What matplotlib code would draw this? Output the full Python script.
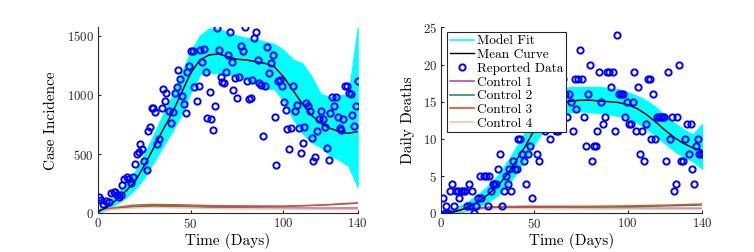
import matplotlib
matplotlib.use("Agg")
import matplotlib.pyplot as plt
from matplotlib.lines import Line2D

# ---- data -----------------------------------------------------------------

# Case incidence: reported data
case_days = [0.5, 2, 3, 4.5, 6, 7, 8.5, 9.5, 10.6, 11.7, 12.4, 13, 14.4, 16, 17, 18,
             19, 20, 21, 22, 23, 24, 25, 26.4, 27, 28, 29, 30, 31, 32, 33, 34.5,
             35, 36, 37, 38.6, 39.5, 40.4, 41.5, 42.5, 43.4, 44.5, 45.4, 46.3,
             47.4, 48.3, 49.2, 50, 51.3, 52, 53.3, 54.4, 55.3, 56.2, 57.3, 58.3,
             59, 60.3, 61.2, 62.1, 63.2, 64.4, 65.2, 66.2, 67.1, 68.2, 69.3, 70.4,
             71.3, 72.2, 73, 74.1, 75.2, 76.3, 77.4, 78.3, 79.3, 80.2, 81.3, 82.4,
             83.3, 84.4, 85.4, 86.2, 87, 88.1, 89, 90.1, 91, 92.1, 93.2, 94.2,
             95.3, 96.2, 97.1, 98.2, 99.1, 100.2, 101.2, 102.1, 103.2, 104.3,
             105.4, 106.4, 107.2, 108.2, 109.3, 110.4, 111.3, 112.2, 113.1, 114.2,
             115.2, 116.1, 117.2, 118.3, 119.2, 120.3, 121.2, 122.2, 123.3, 124.4,
             125.3, 126.2, 127.3, 128.3, 129.2, 130.3, 131.2, 132.1, 133.2, 134.3,
             135.2, 136.2, 137.1, 138.2, 139.1, 140]
case_vals = [141, 113, 76, 107, 98, 174, 180, 177, 155, 141, 152, 236, 293, 310, 293, 256,
             307, 414, 501, 520, 585, 546, 445, 366, 698, 726, 892, 892, 855, 583, 625, 889,
             1047, 951, 1016, 867, 765, 855, 1016, 1064, 1210, 1131, 990, 926,
             850, 1193, 1247, 1373, 1373, 1067, 945, 1078, 1376, 1280, 1390, 1196,
             802, 1027, 794, 701, 906, 1562, 1379, 1154, 1109, 1100, 1193, 1337,
             1531, 1280, 1041, 1145, 974, 1151, 1410, 1368, 1573, 1117, 962, 971,
             1126, 1483, 1534, 1292, 1100, 1086, 650, 1078, 1401, 1185, 1266, 1340,
             810, 411, 1114, 1123, 1075, 937, 872, 712, 540, 718,
             1072, 864, 912, 718, 512, 597, 729, 929, 906, 864,
             636, 445, 478, 695, 796, 864, 794, 729, 549, 450,
             844, 985, 909, 985, 816, 718, 701, 794, 1078, 1078,
             1013, 1005, 827, 737, 903, 1117]

# Fitted curves sampled every 5 days
fit_days = [0, 5, 10, 15, 20, 25, 30, 35, 40, 45, 50, 55, 60, 65, 70, 75, 80, 85, 90,
            95, 100, 105, 110, 115, 120, 125, 130, 135, 140]
case_mean = [14, 50, 113, 185, 267, 400, 549, 700, 844, 1013, 1182, 1295, 1337, 1345,
             1323, 1300, 1295, 1280, 1266, 1238, 1154, 1041, 929, 830, 760, 718, 690, 675, 690]
case_upper = [30, 80, 160, 250, 350, 500, 660, 830, 990, 1180, 1370, 1500, 1560, 1560,
              1530, 1500, 1480, 1470, 1450, 1430, 1380, 1300, 1270, 1160, 1010, 980, 1000, 1000, 1570]
case_lower = [5, 30, 80, 130, 200, 300, 430, 560, 690, 830, 1020, 1170, 1190, 1180,
              1170, 1150, 1130, 1090, 1050, 1050, 950, 800, 680, 600, 560, 490, 450, 400, 220]

# Control scenarios (cases), sampled at these days
ctrl_days = [0, 10, 20, 30, 45, 60, 80, 100, 120, 140]
case_ctrl1 = [20, 40, 55, 60, 56, 50, 47, 45, 44, 45]
case_ctrl2 = [20, 45, 60, 65, 63, 60, 58, 58, 68, 85]
case_ctrl3 = [20, 50, 70, 75, 72, 65, 62, 60, 70, 88]
case_ctrl4 = [20, 35, 45, 50, 45, 40, 37, 35, 32, 30]

# Daily deaths: reported data
death_days = [0.7, 1.8, 2.5, 3.6, 4.5, 5.7, 6.6, 7.7, 8.8, 9.7, 10.7, 11.8, 12.7, 13.6,
              14.7, 15.6, 16.6, 17.7, 18.8, 19.7, 20.6, 21.5, 22.7, 23.8, 24.9, 25.8,
              26.7, 27.6, 28.5, 29.5, 30.6, 31.7, 32.8, 33.7, 34.6, 35.6, 36.5, 37.6,
              38.5, 39.6, 40.5, 41.4, 42.4, 43.5, 44.6, 45.6, 46.7, 47.6, 48.7, 49.6,
              50.7, 51.6, 52.6, 53.5, 54.6, 55.5, 56.6, 57.5, 58.5, 59.6, 60.5, 61.6,
              62.5, 63.6, 64.4, 65.5, 66.4, 67.5, 68.6, 69.6, 70.7, 71.6, 72.5, 73.6,
              74.6, 75.7, 76.8, 77.7, 78.8, 79.7, 80.7, 81.8, 82.9, 83.8, 84.9, 85.8,
              86.8, 87.9, 88.8, 89.9, 90.9, 92, 93.1, 94.5, 95.6, 96.7, 97.7, 98.8,
              99.7, 100.6, 101.7, 102.7, 103.7, 104.7, 105.8, 106.7, 107.8, 108.8,
              109.7, 110.8, 111.9, 112.8, 113.9, 114.8, 115.8, 116.9, 117.8, 118.9,
              119.8, 120.8, 121.7, 122.8, 123.7, 124.8, 125.9, 126.7, 127.8, 128.7,
              129.8, 130.9, 131.8, 132.8, 133.9, 134.8, 135.9, 136.8, 137.7, 138.6,
              139.6, 140.5]
death_vals = [2, 0, 1, 0, 3, 4, 1, 3, 3, 2, 3, 3, 3, 1,
              4, 1, 3, 0, 1, 2, 5, 2, 5, 5, 1, 5,
              3, 4, 4, 4, 6, 8, 1, 3, 5, 4, 6, 3,
              7, 6, 6, 10, 10, 8, 7, 4, 8, 9, 2, 13,
              15, 8, 7, 13, 13, 11, 16, 14, 10, 17, 14, 11,
              11, 17, 15, 18, 16, 13, 16, 15, 11, 18, 14, 18,
              22, 18, 13, 9, 16, 20, 7, 9, 9, 11, 19, 15,
              12, 13, 19, 19, 17, 19, 11, 24, 16, 16, 16, 13,
              15, 12, 12, 15, 19, 11, 17, 8, 11, 7,
              12, 18, 18, 10, 16, 10, 13, 13, 13, 13,
              13, 7, 19, 10, 13, 3, 4, 13, 20, 7,
              7, 10, 12, 8, 12, 6, 4, 9, 10, 8,
              8, 8]

death_mean = [0, 0.1, 0.4, 0.9, 1.6, 2.5, 3.6, 5.1, 7.0, 9.0, 11.2, 13.0, 14.3, 14.9,
              15.1, 15.2, 15.2, 15.1, 15.0, 14.9, 14.6, 14.1, 13.3, 12.3, 11.2, 10.2,
              9.4, 8.8, 8.5]
death_upper = [0.3, 0.5, 1.0, 1.7, 2.6, 3.7, 5.0, 6.8, 8.8, 11.0, 13.2, 15.0, 16.2, 16.8,
               17.0, 17.0, 17.0, 17.0, 16.8, 16.7, 16.3, 15.8, 15.2, 14.3, 13.2, 12.2,
               11.3, 10.6, 12.0]
death_lower = [0, 0, 0.1, 0.4, 0.9, 1.5, 2.4, 3.6, 5.3, 7.2, 9.3, 11.2, 12.6, 13.3,
               13.6, 13.7, 13.6, 13.5, 13.3, 13.1, 12.8, 12.2, 11.4, 10.4, 9.4, 8.4,
               7.6, 7.0, 6.0]

death_ctrl1 = [0, 0.35, 0.6, 0.75, 0.8, 0.75, 0.72, 0.7, 0.68, 0.68]
death_ctrl2 = [0, 0.4, 0.7, 0.85, 0.9, 0.88, 0.85, 0.88, 0.98, 1.1]
death_ctrl3 = [0, 0.45, 0.75, 0.9, 0.95, 0.95, 0.95, 1.0, 1.1, 1.25]
death_ctrl4 = [0, 0.3, 0.5, 0.6, 0.62, 0.6, 0.58, 0.57, 0.56, 0.55]

CYAN = "#00FFFF"
BLUE = "#0000FF"
CTRL_COLORS = ["#B04AC0", "#2E8B57", "#E0501A", "#F2C9A0"]
CTRL_LABELS = ["Control 1", "Control 2", "Control 3", "Control 4"]

plt.rcParams.update({
    "font.family": "serif",
    "font.serif": ["cmr10", "DejaVu Serif"],
    "mathtext.fontset": "cm",
    "axes.formatter.use_mathtext": True,
    "axes.edgecolor": "#262626",
    "xtick.color": "#262626",
    "ytick.color": "#262626",
    "xtick.direction": "in",
    "ytick.direction": "in",
    "xtick.major.size": 2.5,
    "ytick.major.size": 2.5,
    "axes.linewidth": 0.8,
})

fig = plt.figure(figsize=(7.54, 2.52), dpi=100)
ax1 = fig.add_axes([0.1296, 0.1536, 0.3448, 0.738])
ax2 = fig.add_axes([0.5853, 0.1536, 0.3458, 0.738])


def draw_panel(ax, days, vals, mean, lower, upper, ctrls):
    ax.fill_between(fit_days, lower, upper, color=CYAN, lw=0.8, edgecolor=CYAN, zorder=1)
    ax.plot(fit_days, mean, color="black", lw=1.1, zorder=3)
    ax.plot(days, vals, "o", mfc="none", mec=BLUE, ms=4.5, mew=1.4, zorder=4)
    for c, col in zip(ctrls, CTRL_COLORS):
        ax.plot(ctrl_days, c, color=col, lw=1.0, zorder=2)
    ax.set_xlim(0, 140)
    ax.set_xticks([0, 50, 100, 140])
    for s in ("top", "right"):
        ax.spines[s].set_visible(False)
    ax.tick_params(labelsize=9.2, pad=3)
    ax.set_xlabel("Time (Days)", fontsize=11, labelpad=1)


draw_panel(ax1, case_days, case_vals, case_mean, case_lower, case_upper,
           [case_ctrl1, case_ctrl2, case_ctrl3, case_ctrl4])
ax1.set_ylim(0, 1570)
ax1.set_yticks([0, 500, 1000, 1500])
ax1.set_ylabel("Case Incidence", fontsize=11, labelpad=6)

draw_panel(ax2, death_days, death_vals, death_mean, death_lower, death_upper,
           [death_ctrl1, death_ctrl2, death_ctrl3, death_ctrl4])
ax2.set_ylim(0, 25)
ax2.set_yticks([0, 5, 10, 15, 20, 25])
ax2.set_ylabel("Daily Deaths", fontsize=11, labelpad=6)

handles = [
    Line2D([], [], color=CYAN, lw=1.2, label="Model Fit"),
    Line2D([], [], color="black", lw=1.0, label="Mean Curve"),
    Line2D([], [], ls="none", marker="o", mfc="none", mec=BLUE, ms=4.5, mew=1.4,
           label="Reported Data"),
] + [Line2D([], [], color=c, lw=1.2, label=l) for c, l in zip(CTRL_COLORS, CTRL_LABELS)]

leg = ax2.legend(handles=handles, loc="upper left", bbox_to_anchor=(0.023, 0.973),
                 fontsize=9.6, frameon=True, fancybox=False, framealpha=1,
                 edgecolor="#262626", handlelength=1.8, handletextpad=0.25,
                 labelspacing=0.1, borderpad=0.2, borderaxespad=0)
leg.get_frame().set_linewidth(0.8)

fig.savefig("out.png", dpi=100)
